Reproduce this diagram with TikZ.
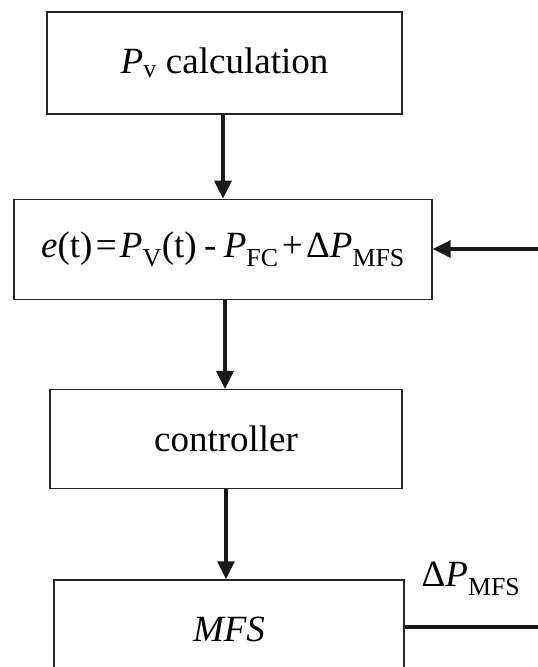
\documentclass[tikz,border=0pt]{standalone}
\usepackage{fontspec}
\setmainfont{Liberation Serif}
\usetikzlibrary{arrows.meta,positioning}
\newcommand{\tsp}{\hspace{0.09em}}
\newcommand{\msp}{\hspace{0.2em}}
\tikzset{
  blockbox/.style={draw=black!85, line width=1.3pt, inner sep=0pt,
    minimum height=100pt, font=\fontsize{37}{44}\selectfont},
  flow/.style={-{Triangle[length=18pt,width=17pt]}, line width=3.2pt, draw=black!90},
  feed/.style={line width=3.2pt, draw=black!90},
}
\begin{document}
\begin{tikzpicture}[x=1pt,y=-1pt]
    \useasboundingbox (0,0) rectangle (538,667);
    \node[blockbox, minimum width=355pt, minimum height=102pt] (pv) at (224.5,63)
      {\textit{P}\textsubscript{v} calculation};
    \node[blockbox, minimum width=418pt, below=84pt of pv, xshift=-1.5pt] (err)
      {\textit{e}(t)\tsp=\tsp\textit{P}\textsubscript{V}(t)\msp-\msp\textit{P}\textsubscript{FC}\tsp+\tsp Δ\textit{P}\textsubscript{MFS}};
    \node[blockbox, minimum width=352pt, minimum height=99pt, below=89pt of err, xshift=3pt] (ctrl) {controller};
    \node[blockbox, minimum width=350pt, below=90pt of ctrl, xshift=3pt] (mfs) {\textit{MFS}};
    \coordinate (fbin) at (538,249);
    \coordinate (fbout) at (538,627);
    \node[font=\fontsize{37}{44}\selectfont] (dpm) at (471,579) {Δ\textit{P}\textsubscript{MFS}};
    \draw[flow] (pv.south -| 223,0) -- (err.north -| 223,0);
    \draw[flow] (err.south -| 225,0) -- (ctrl.north -| 225,0);
    \draw[flow] (ctrl.south -| 226,0) -- (mfs.north -| 226,0);
    \draw[flow] (fbin) -- (err.east |- fbin);
    \draw[feed] (mfs.east |- fbout) -- (fbout);
\end{tikzpicture}
\end{document}
